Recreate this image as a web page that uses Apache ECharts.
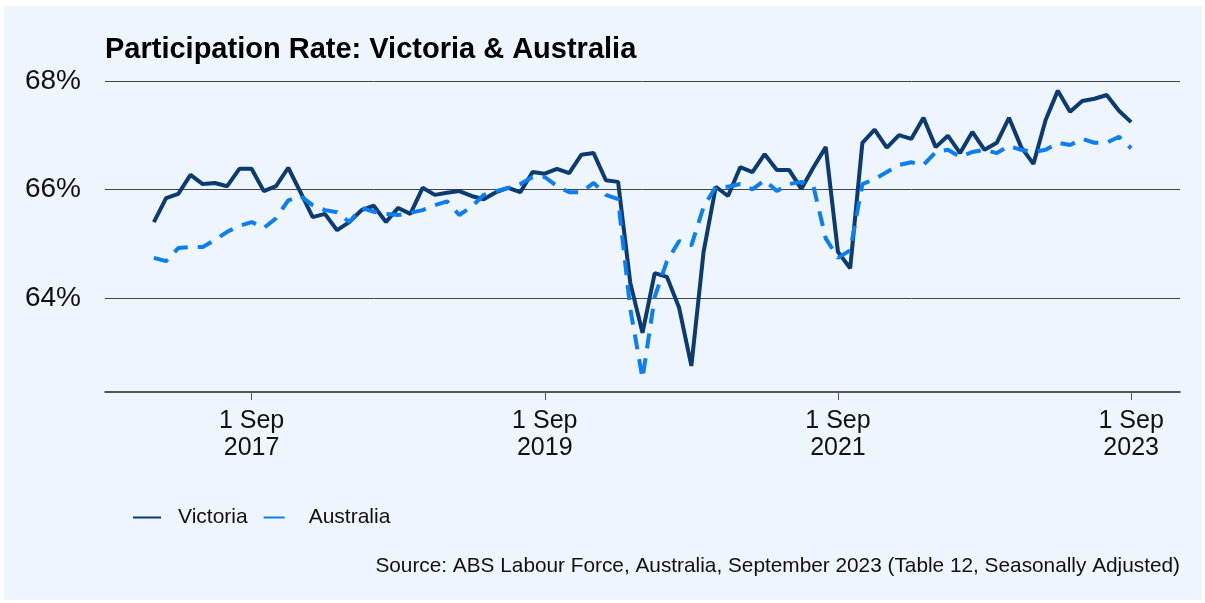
<!DOCTYPE html>
<html>
<head>
<meta charset="utf-8">
<title>Participation Rate: Victoria & Australia</title>
<script src="https://cdn.jsdelivr.net/npm/echarts@6/dist/echarts.min.js"></script>
<style>
  html, body { margin: 0; padding: 0; background: #fff; }
  #panel { position: absolute; left: 4px; top: 6px; width: 1198px; height: 594px; background: #EEF5FD; }
  #chart { position: absolute; left: 0; top: 0; width: 1205px; height: 603px; }
</style>
</head>
<body>
<div id="panel"></div>
<div id="chart"></div>
<script>
// monthly, Jan 2017 .. Sep 2023 (x = months since Jan 2017)
const startYear = 2017
const monthNames = ['Jan', 'Feb', 'Mar', 'Apr', 'May', 'Jun', 'Jul', 'Aug', 'Sep', 'Oct', 'Nov', 'Dec']

const victoria = [
  65.40, 65.84, 65.92, 66.27, 66.10, 66.12, 66.06, 66.38, 66.38, 65.97, 66.06, 66.40,
  65.95, 65.49, 65.55, 65.25, 65.40, 65.62, 65.70, 65.40, 65.66, 65.55, 66.03, 65.90,
  65.94, 65.97, 65.88, 65.82, 65.95, 66.03, 65.95, 66.32, 66.29, 66.38, 66.30, 66.64,
  66.67, 66.17, 66.14, 64.28, 63.36, 64.46, 64.39, 63.82, 62.75, 64.85, 66.05, 65.88,
  66.41, 66.32, 66.65, 66.36, 66.36, 66.01, 66.41, 66.78, 64.85, 64.55, 66.86, 67.10,
  66.77, 67.00, 66.93, 67.32, 66.78, 66.99, 66.67, 67.06, 66.73, 66.86, 67.32, 66.78,
  66.47, 67.28, 67.82, 67.43, 67.63, 67.67, 67.74, 67.45, 67.24
]

const australia = [
  64.74, 64.68, 64.92, 64.94, 64.94, 65.07, 65.22, 65.33, 65.40, 65.29, 65.47, 65.80,
  65.88, 65.71, 65.62, 65.58, 65.40, 65.66, 65.59, 65.55, 65.53, 65.57, 65.62, 65.71,
  65.78, 65.53, 65.68, 65.90, 65.97, 66.03, 66.10, 66.23, 66.23, 66.06, 65.95, 65.95,
  66.12, 65.90, 65.82, 63.80, 62.52, 64.02, 64.68, 65.05, 64.97, 65.68, 66.05, 66.05,
  66.10, 66.00, 66.17, 65.97, 66.10, 66.14, 66.05, 65.10, 64.74, 64.88, 66.10, 66.19,
  66.32, 66.45, 66.50, 66.45, 66.69, 66.73, 66.60, 66.69, 66.73, 66.67, 66.80, 66.73,
  66.69, 66.73, 66.86, 66.82, 66.93, 66.86, 66.86, 66.97, 66.76
]

// 1 Sep 2017, 2019, 2021, 2023 as month offsets
const xTicks = [8, 32, 56, 80]
const yTicks = [64, 66, 68]

const font = "'Liberation Sans', Arial, sans-serif"

function tickLabel(m) {
  const year = startYear + Math.floor(m / 12)
  return '1 ' + monthNames[m % 12] + '\n' + year
}

const chart = echarts.init(document.getElementById('chart'))

chart.setOption({
  animation: false,
  title: [
    {
      text: 'Participation Rate: Victoria & Australia',
      left: 105,
      top: 35,
      padding: 0,
      textStyle: { fontSize: 29, fontWeight: 'bold', color: '#000', fontFamily: font }
    },
    {
      text: 'Source: ABS Labour Force, Australia, September 2023 (Table 12, Seasonally Adjusted)',
      right: 25,
      top: 556,
      padding: 0,
      textStyle: { fontSize: 20.8, fontWeight: 'normal', color: '#111', fontFamily: font }
    }
  ],
  legend: {
    left: 127,
    top: 502,
    itemWidth: 28,
    itemHeight: 14,
    itemGap: 15,
    itemStyle: { opacity: 0 },
    textStyle: { fontSize: 21, color: '#111', fontFamily: font, padding: [0, 0, 0, 12] },
    data: [
      'Victoria',
      { name: 'Australia', lineStyle: { type: [21, 12] } }
    ]
  },
  grid: {
    left: 105,
    right: 25,
    top: 70,
    bottom: 211,
    containLabel: false
  },
  xAxis: {
    type: 'value',
    min: -4,
    max: 84,
    axisLine: { lineStyle: { color: '#222', width: 1.5 } },
    axisTick: { show: true, length: 8, lineStyle: { color: '#555' }, customValues: xTicks },
    axisLabel: {
      customValues: xTicks,
      formatter: tickLabel,
      fontSize: 25,
      lineHeight: 27,
      color: '#111',
      margin: 16,
      fontFamily: font
    },
    splitLine: { show: false }
  },
  yAxis: {
    type: 'value',
    min: 62.27,
    max: 68.2,
    axisLine: { show: false },
    axisTick: { show: false, customValues: yTicks },
    axisLabel: {
      customValues: yTicks,
      formatter: '{value}%',
      fontSize: 28,
      color: '#111',
      margin: 24,
      fontFamily: font
    },
    splitLine: { show: true, lineStyle: { color: '#444', width: 1 } }
  },
  series: [
    {
      name: 'Victoria',
      type: 'line',
      symbol: 'none',
      showSymbol: false,
      lineStyle: { color: '#0B3B70', width: 4 },
      itemStyle: { color: '#0B3B70' },
      data: victoria.map((v, i) => [i, v])
    },
    {
      name: 'Australia',
      type: 'line',
      symbol: 'none',
      showSymbol: false,
      lineStyle: { color: '#0A7EF2', width: 4, type: [15, 10] },
      itemStyle: { color: '#0A7EF2' },
      data: australia.map((v, i) => [i, v])
    }
  ]
})
</script>
</body>
</html>
